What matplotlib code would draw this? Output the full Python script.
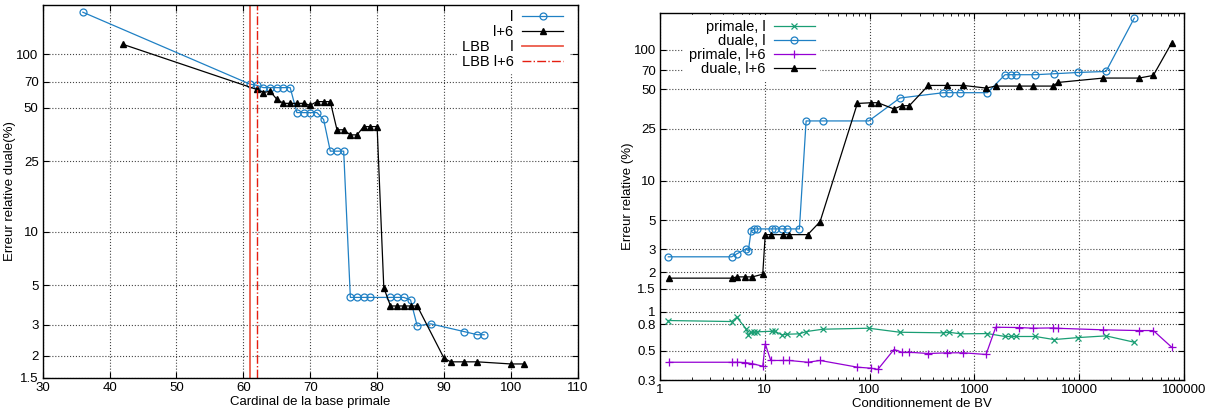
import numpy as np
import matplotlib
matplotlib.use("Agg")
from matplotlib import pyplot as plt
from matplotlib.ticker import FixedLocator, LogLocator, NullFormatter

plt.rcParams['font.family'] = ['Liberation Sans', 'DejaVu Sans']
plt.rcParams['font.size'] = 9.5

# --- left panel : erreur duale vs cardinal de la base primale
card_l = [36, 61, 62, 63, 64, 65, 66, 67, 68, 69, 70, 71, 72, 73, 74, 75,
          76, 77, 78, 79, 82, 83, 84, 85, 86, 88, 93, 95, 96]
err_l = [173, 68, 67, 65, 65, 65, 65, 65, 47, 47, 47, 47, 43, 28.5, 28.5, 28.5,
         4.27, 4.27, 4.27, 4.27, 4.27, 4.27, 4.27, 4.13, 2.95, 3.03, 2.74, 2.63, 2.63]
card_l6 = [42, 62, 63, 64, 65, 66, 67, 68, 69, 70, 71, 72, 73, 74, 75, 76, 77,
           78, 79, 80, 81, 82, 83, 84, 85, 86, 90, 91, 93, 95, 100, 102]
err_l6 = [114, 63.5, 61, 62, 55.9, 53, 53, 53, 53, 51.7, 54.2, 54.2, 54.2, 37.6, 37.6,
          35.2, 35.2, 39.2, 39.2, 39.2, 4.84, 3.82, 3.82, 3.82, 3.82, 3.82,
          1.94, 1.85, 1.85, 1.85, 1.80, 1.80]
lbb_l = 61
lbb_l6 = 62

# --- right panel : erreur relative vs conditionnement de BV
cond_l = [1.2, 4.83, 5.4, 6.62, 6.97, 7.39, 7.95, 8.38, 11.65, 12.5, 14.5, 16.3,
          21.4, 24.8, 35.7, 98.3, 195, 507, 574, 736, 1334, 1967, 2244, 2505,
          3830, 5770, 9860, 18100, 33700]
duale_l = [2.62, 2.62, 2.76, 3.01, 2.92, 4.10, 4.28, 4.28, 4.28, 4.28, 4.28, 4.28,
           4.28, 28.6, 28.6, 28.6, 42.8, 47.0, 47.0, 47.0, 47.0, 64.5, 64.5, 64.5,
           64.5, 65.6, 67.1, 68.3, 174.6]
primale_l = [0.854, 0.839, 0.905, 0.74, 0.664, 0.695, 0.695, 0.70, 0.707, 0.707,
             0.664, 0.671, 0.676, 0.703, 0.733, 0.746, 0.695, 0.688, 0.695, 0.676,
             0.679, 0.645, 0.645, 0.645, 0.645, 0.611, 0.633, 0.652, 0.583]
cond_l6 = [1.22, 4.83, 5.44, 6.49, 7.61, 9.56, 10.1, 11.4, 14.8, 17.1, 25.7, 33.7,
           76.5, 104, 120, 171, 203, 240, 364, 553, 787, 1295, 1602, 2674, 3665,
           5615, 6310, 17060, 37400, 51200, 76700]
duale_l6 = [1.80, 1.80, 1.84, 1.84, 1.84, 1.93, 3.87, 3.87, 3.87, 3.87, 3.87, 4.86,
            38.9, 39.4, 39.4, 35.3, 37.4, 37.4, 53.4, 53.4, 53.4, 51.0, 52.8, 52.8,
            52.8, 52.8, 56.3, 60.8, 60.8, 63.7, 113]
primale_l6 = [0.41, 0.41, 0.41, 0.408, 0.40, 0.382, 0.567, 0.423, 0.423, 0.423,
              0.41, 0.423, 0.376, 0.369, 0.361, 0.513, 0.489, 0.489, 0.478, 0.484,
              0.484, 0.47, 0.759, 0.755, 0.746, 0.75, 0.745, 0.725, 0.716, 0.716, 0.534]

blue = '#1f80c4'
green = '#1a9e74'
purple = '#9400d3'

fig = plt.figure(figsize=(12.14, 4.09), dpi=100)
ax1 = fig.add_axes([0.0352, 0.0758, 0.4407, 0.912])
ax2 = fig.add_axes([0.5437, 0.0709, 0.4314, 0.8966])


def make_legend(ax, anchor, spacing):
    # gnuplot style: text right-justified, sample line on the right
    leg = ax.legend(loc='upper right', bbox_to_anchor=anchor, markerfirst=False,
                    frameon=True, framealpha=1, edgecolor='white',
                    facecolor='white', fancybox=False, handlelength=2.8,
                    handletextpad=0.6, labelspacing=spacing, borderaxespad=0,
                    borderpad=0.3, fontsize=10.5)
    leg.set_zorder(10)
    return leg


def style(ax):
    ax.set_yscale('log')
    ax.grid(True, which='major', linestyle=':', color='#444444', linewidth=0.8)
    ax.tick_params(which='both', direction='in', top=True, right=True,
                   labelsize=9.5, pad=3)
    ax.tick_params(which='major', length=4)
    ax.tick_params(which='minor', length=2)
    for s in ax.spines.values():
        s.set_linewidth(1.0)
        s.set_zorder(20)


# left
ax1.plot(card_l, err_l, color=blue, lw=0.9, marker='o', ms=5, mfc='none',
         mew=0.9, label='l')
ax1.plot(card_l6, err_l6, color='black', lw=0.9, marker='^', ms=5, label='l+6')
ax1.axvline(lbb_l, color='#ec5a4a', lw=1.3, label='LBB     l')
ax1.axvline(lbb_l6, color='#e51e10', lw=1.0, linestyle='-.', label='LBB l+6')
style(ax1)
ax1.set_xlim(30, 110)
ax1.set_ylim(1.5, 190)
ax1.xaxis.set_major_locator(FixedLocator(np.arange(30, 111, 10)))
yt1 = [1.5, 2, 3, 5, 10, 25, 50, 70, 100]
ax1.yaxis.set_major_locator(FixedLocator(yt1))
ax1.yaxis.set_minor_locator(FixedLocator([]))
ax1.set_yticklabels([f'{v:g}' for v in yt1])
ax1.yaxis.set_minor_formatter(NullFormatter())
ax1.set_xlabel('Cardinal de la base primale', labelpad=1)
ax1.set_ylabel('Erreur relative duale(%)', labelpad=0)
make_legend(ax1, (0.981, 0.997), 0.05)

# right
ax2.plot(cond_l, primale_l, color=green, lw=0.9, marker='x', ms=5, mew=0.9,
         label='primale, l')
ax2.plot(cond_l, duale_l, color=blue, lw=0.9, marker='o', ms=5, mfc='none',
         mew=0.9, label='duale, l')
ax2.plot(cond_l6, primale_l6, color=purple, lw=0.9, marker='+', ms=6, mew=0.9,
         label='primale, l+6')
ax2.plot(cond_l6, duale_l6, color='black', lw=0.9, marker='^', ms=5,
         label='duale, l+6')
style(ax2)
ax2.set_xscale('log')
ax2.set_xlim(1, 100000)
ax2.set_ylim(0.3, 190)
xt2 = [1, 10, 100, 1000, 10000, 100000]
ax2.xaxis.set_major_locator(FixedLocator(xt2))
ax2.set_xticklabels([str(v) for v in xt2])
ax2.xaxis.set_minor_locator(LogLocator(base=10, subs=np.arange(2, 10)))
ax2.xaxis.set_minor_formatter(NullFormatter())
yt2 = [0.3, 0.5, 0.8, 1, 1.5, 2, 3, 5, 10, 25, 50, 70, 100]
ax2.yaxis.set_major_locator(FixedLocator(yt2))
ax2.yaxis.set_minor_locator(FixedLocator([]))
ax2.set_yticklabels([f'{v:g}' for v in yt2])
ax2.yaxis.set_minor_formatter(NullFormatter())
ax2.set_xlabel('Conditionnement de BV', labelpad=1)
ax2.set_ylabel('Erreur relative (%)', labelpad=0)
make_legend(ax2, (0.304, 0.994), 0.0)

fig.savefig('out.png', dpi=100)
